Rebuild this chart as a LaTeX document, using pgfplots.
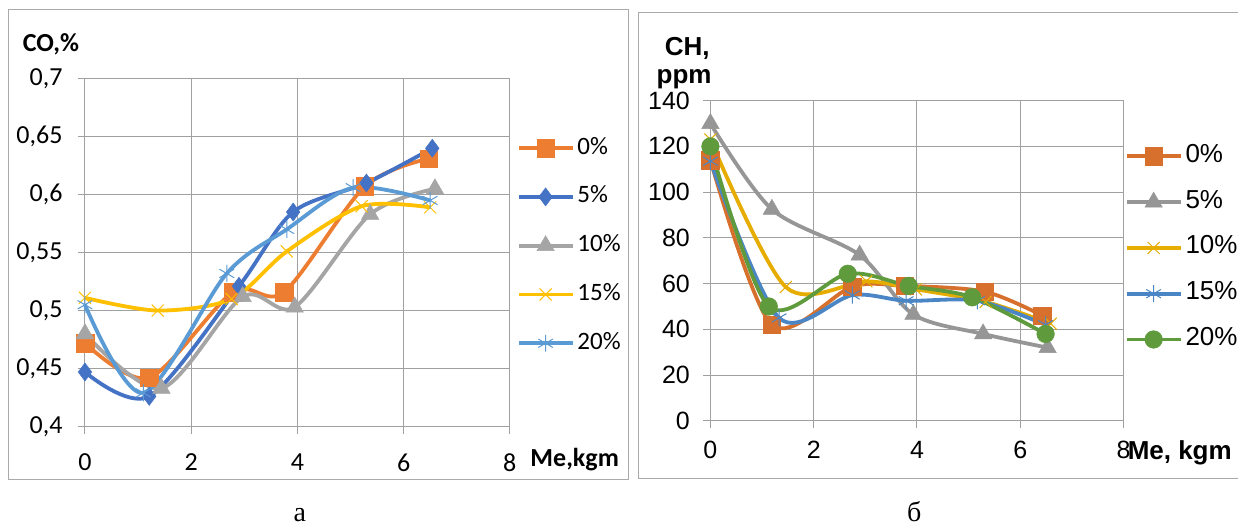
\documentclass[border=0pt]{standalone}
\usepackage{fontspec}
\setmainfont{Liberation Serif}
\newfontfamily\carlito{Carlito}
\newfontfamily\arial{Liberation Sans}
\usepackage{pgfplots}
\pgfplotsset{compat=1.18}
\definecolor{gridc}{RGB}{160,160,160}
\definecolor{framec}{RGB}{170,170,170}
% left palette
\definecolor{lOr}{RGB}{237,125,49}
\definecolor{lBl}{RGB}{68,114,196}
\definecolor{lGr}{RGB}{165,165,165}
\definecolor{lYe}{RGB}{255,192,0}
\definecolor{lLb}{RGB}{91,155,213}
% right palette
\definecolor{rOr}{RGB}{214,112,44}
\definecolor{rGr}{RGB}{150,150,150}
\definecolor{rYe}{RGB}{230,172,0}
\definecolor{rBl}{RGB}{74,134,197}
\definecolor{rGn}{RGB}{95,155,60}
\pgfplotsset{
  common/.style={
    scale only axis, clip=false,
    axis line style={draw=gridc, line width=1pt},
    grid=major, major grid style={draw=gridc, line width=1pt},
    tick align=outside, major tick length=7pt,
    tick style={draw=gridc, line width=1pt},
    tick pos=left,
    xmin=0, xmax=8, xtick={0,2,4,6,8}, xticklabels={0,2,4,6,8},
    legend cell align=left,
    legend image code/.code={\draw[mark repeat=2,mark phase=2] plot coordinates {(0pt,0pt) (27pt,0pt) (54pt,0pt)};},
  },
  ser/.style={line width=3.8pt, smooth},
}
\begin{document}
\begin{tikzpicture}
\fill[white] (0pt,0pt) rectangle (1238pt,526pt);
\draw[framec, line width=1pt] (9pt,46pt) rectangle (629pt,516pt);
\draw[framec, line width=1pt] (1238pt,513.5pt) -- (639pt,513.5pt) -- (639pt,47pt) -- (1238pt,47pt);

\begin{axis}[common,
  at={(85pt,99.3pt)}, anchor=south west, width=425pt, height=348pt,
  ymin=0.4, ymax=0.7, ytick={0.4,0.45,0.5,0.55,0.6,0.65,0.7},
  yticklabels={{0,4},{0,45},{0,5},{0,55},{0,6},{0,65},{0,7}},
  tick label style={font=\carlito\fontsize{26}{30}\selectfont},
  yticklabel style={xshift=-12pt},
  xticklabel style={yshift=-17pt},
  legend style={at={(1.0158,0.8325)}, anchor=north west, draw=none, fill=none,
    inner sep=0pt, row sep=26.8pt, font=\carlito\fontsize{25}{28}\selectfont,
    nodes={inner sep=0pt, text height=17pt, text depth=5pt},
    /tikz/every odd column/.append style={column sep=3pt}},
]
\addplot[ser, lOr, mark=square*, mark size=8.8pt, mark options={draw=lOr, fill=lOr, line width=0.5pt}]
  coordinates {(0,0.472) (1.21,0.442) (2.79,0.516) (3.75,0.516) (5.27,0.607) (6.47,0.631)};
\addlegendentry{0\%}
\addplot[ser, lBl, mark=diamond*, mark size=9pt, mark options={draw=lBl, fill=lBl, line width=0.5pt}]
  coordinates {(0,0.447) (1.21,0.426) (2.90,0.521) (3.92,0.585) (5.30,0.610) (6.54,0.640)};
\addlegendentry{5\%}
\addplot[ser, lGr, mark=triangle*, mark size=10pt, mark options={draw=lGr, fill=lGr, line width=0.5pt}]
  coordinates {(0,0.480) (1.44,0.433) (2.97,0.512) (3.95,0.503) (5.37,0.583) (6.59,0.605)};
\addlegendentry{10\%}
\addplot[ser, lYe, mark=x, mark size=8.5pt, mark options={draw=lYe, line width=1pt}]
  coordinates {(0,0.511) (1.37,0.500) (2.76,0.510) (3.80,0.551) (5.21,0.590) (6.50,0.589)};
\addlegendentry{15\%}
\addplot[ser, lLb, mark=asterisk, mark size=8.5pt, mark options={draw=lLb, line width=1pt}]
  coordinates {(0,0.505) (1.10,0.429) (2.67,0.532) (3.80,0.570) (5.05,0.606) (6.50,0.595)};
\addlegendentry{20\%}
\end{axis}

\begin{axis}[common,
  at={(710.7pt,105pt)}, anchor=south west, width=413.3pt, height=320.3pt,
  ymin=0, ymax=140, ytick={0,20,40,60,80,100,120,140},
  yticklabels={0,20,40,60,80,100,120,140},
  tick label style={font=\arial\fontsize{25}{28}\selectfont},
  yticklabel style={xshift=-10pt},
  xticklabel style={yshift=-10pt},
  legend style={at={(1.0024,0.861)}, anchor=north west, draw=none, fill=none,
    inner sep=0pt, row sep=23.8pt, font=\arial\fontsize{26}{29}\selectfont,
    nodes={inner sep=0pt, text height=17pt, text depth=5pt},
    /tikz/every odd column/.append style={column sep=3pt}},
]
\addplot[ser, rOr, mark=square*, mark size=8.8pt, mark options={draw=rOr, fill=rOr, line width=0.5pt}]
  coordinates {(0,114) (1.19,42) (2.75,58.7) (3.76,59) (5.31,56.5) (6.43,46)};
\addlegendentry{0\%}
\addplot[ser, rGr, mark=triangle*, mark size=10pt, mark options={draw=rGr, fill=rGr, line width=0.5pt}]
  coordinates {(0,130) (1.19,92.5) (2.89,72.5) (3.93,46.5) (5.28,38) (6.53,32)};
\addlegendentry{5\%}
\addplot[ser, rYe, mark=x, mark size=8.5pt, mark options={draw=rYe, line width=1pt}]
  coordinates {(0,123) (1.46,58.5) (3.02,61) (3.98,57.5) (5.33,52) (6.59,42.5)};
\addlegendentry{10\%}
\addplot[ser, rBl, mark=asterisk, mark size=8.5pt, mark options={draw=rBl, line width=1pt}]
  coordinates {(0,113.5) (1.33,45) (2.75,55) (3.79,52.5) (5.17,52.5) (6.49,42)};
\addlegendentry{15\%}
\addplot[ser, rGn, mark=*, mark size=8.8pt, mark options={draw=rGn, fill=rGn, line width=0.5pt}]
  coordinates {(0,120) (1.13,50) (2.66,64.3) (3.84,59) (5.07,54) (6.49,38)};
\addlegendentry{20\%}
\end{axis}

\node[anchor=base west, inner sep=0pt, font=\carlito\bfseries\fontsize{26}{30}\selectfont] at (22.7pt,474pt) {CO,\%};
\node[anchor=base west, inner sep=0pt, font=\carlito\bfseries\fontsize{26}{30}\selectfont] at (530.5pt,59pt) {Me,kgm};
\node[anchor=base west, inner sep=0pt, font=\arial\bfseries\fontsize{26}{30}\selectfont] at (665pt,470pt) {CH,};
\node[anchor=base west, inner sep=0pt, font=\arial\bfseries\fontsize{26}{30}\selectfont] at (656.7pt,442.7pt) {ppm};
\node[anchor=base west, inner sep=0pt, font=\arial\bfseries\fontsize{26}{30}\selectfont] at (1128pt,66pt) {Me, kgm};
\node[anchor=base, inner sep=0pt, font=\fontsize{28}{30}\selectfont] at (300pt,4pt) {а};
\node[anchor=base, inner sep=0pt, font=\fontsize{28}{30}\selectfont] at (914.5pt,4pt) {б};
\end{tikzpicture}
\end{document}
